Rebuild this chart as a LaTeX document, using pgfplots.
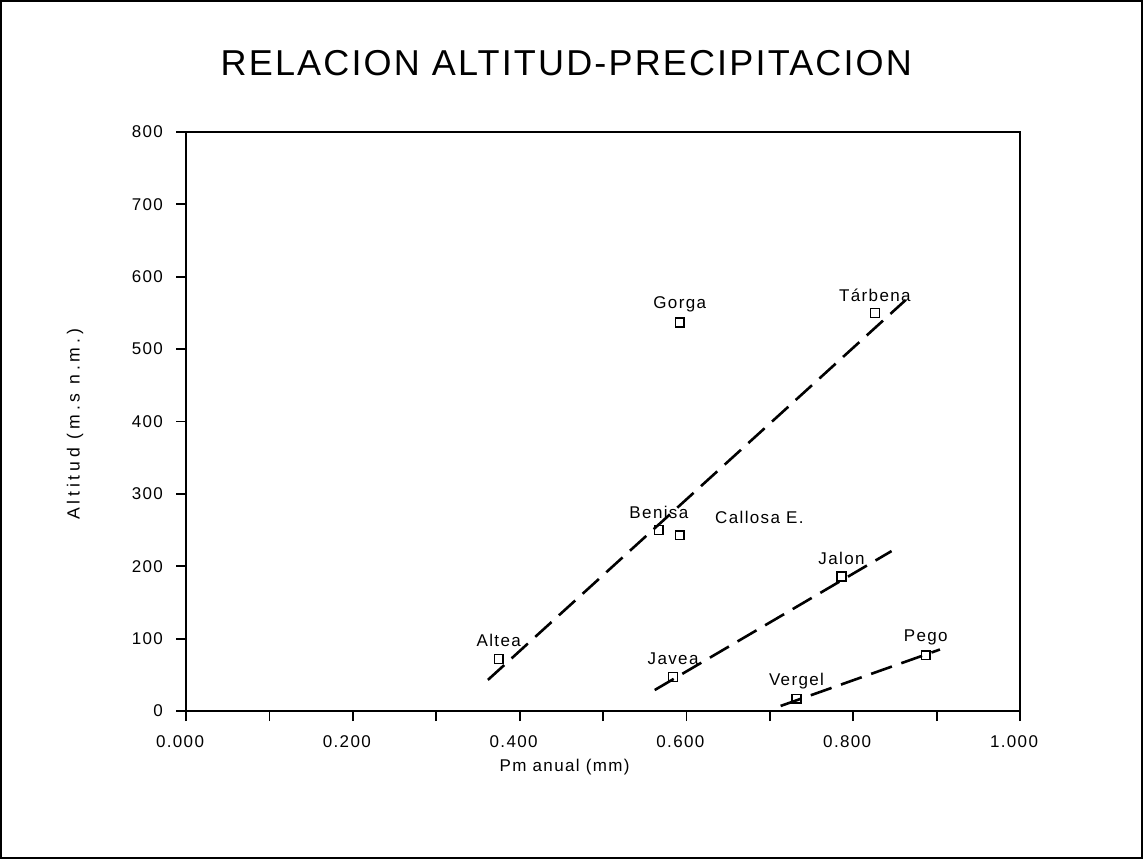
\documentclass[border=0pt]{standalone}
\usepackage{fontspec}
\setmainfont{Liberation Sans}
\newfontfamily\plotfont[LetterSpace=8]{Liberation Sans}
\newfontfamily\ylabfont[LetterSpace=22]{Liberation Sans}
\newfontfamily\titlefont[LetterSpace=6]{Liberation Sans}
\usepackage{pgfplots}
\pgfplotsset{compat=1.18}
\begin{document}
\begin{tikzpicture}
\path[use as bounding box] (0,0) rectangle (571.5pt,429.5pt);
\draw[line width=1pt] (0.5pt,0.5pt) rectangle (571pt,429pt);
\begin{axis}[
  at={(93pt,74pt)}, anchor=south west,
  scale only axis, width=417pt, height=289.5pt,
  xmin=0, xmax=1, ymin=0, ymax=800,
  axis line style={line width=1pt},
  xtick={0,0.2,0.4,0.6,0.8,1},
  minor xtick={0.1,0.3,0.5,0.7,0.9},
  ytick={0,100,200,300,400,500,600,700,800},
  tick align=outside, xtick pos=bottom, ytick pos=left,
  major tick length=5pt, minor tick length=5pt,
  every tick/.style={black, line width=0.9pt},
  /pgf/number format/assume math mode=true,
  tick label style={font=\plotfont\fontsize{8.5}{10}\selectfont},
  xticklabel style={/pgf/number format/.cd, fixed, fixed zerofill, precision=3, /tikz/.cd, yshift=-4pt, xshift=-3pt},
  yticklabel style={xshift=-3pt},
  title={RELACION ALTITUD-PRECIPITACION},
  title style={font=\titlefont\fontsize{18}{20}\selectfont, at={(axis description cs:0.456,1.098)}, anchor=center},
  xlabel={Pm anual (mm)},
  xlabel style={font=\plotfont\fontsize{8.5}{10}\selectfont, at={(axis description cs:0.454,-0.097)}, anchor=center},
  ylabel={Altitud (m.s n.m.)},
  ylabel style={font=\ylabfont\fontsize{8.8}{10}\selectfont, at={(axis description cs:-0.133,0.495)}, anchor=center},
  clip=false,
]
% regression lines
\addplot[black, line width=1.3pt, dash pattern=on 11pt off 5pt] coordinates {(0.362,43) (0.863,568)};
\addplot[black, line width=1.3pt, dash pattern=on 11pt off 5pt] coordinates {(0.562,29) (0.846,221)};
\addplot[black, line width=1.3pt, dash pattern=on 11pt off 5pt] coordinates {(0.713,7) (0.904,85)};
% stations
\addplot[only marks, mark=square, mark size=2.2pt, black, line width=0.8pt,
  point meta=explicit symbolic, nodes near coords,
  every node near coord/.append style={font=\plotfont\fontsize{8.5}{10}\selectfont, anchor=center, yshift=9pt}]
  coordinates {
  (0.375,72) [Altea]
  (0.592,537) [Gorga]
  (0.826,550) [Tárbena]
  (0.567,250) [Benisa]
  (0.786,186) [Jalon]
  (0.584,47) [Javea]
  (0.732,17) [Vergel]
  (0.887,77) [Pego]
  };
\addplot[only marks, mark=square, mark size=2.2pt, black, line width=0.8pt,
  point meta=explicit symbolic, nodes near coords,
  every node near coord/.append style={font=\plotfont\fontsize{8.5}{10}\selectfont, anchor=west, xshift=14pt, yshift=9pt}]
  coordinates {
  (0.592,243) [Callosa E.]
  };
\end{axis}
\end{tikzpicture}
\end{document}
